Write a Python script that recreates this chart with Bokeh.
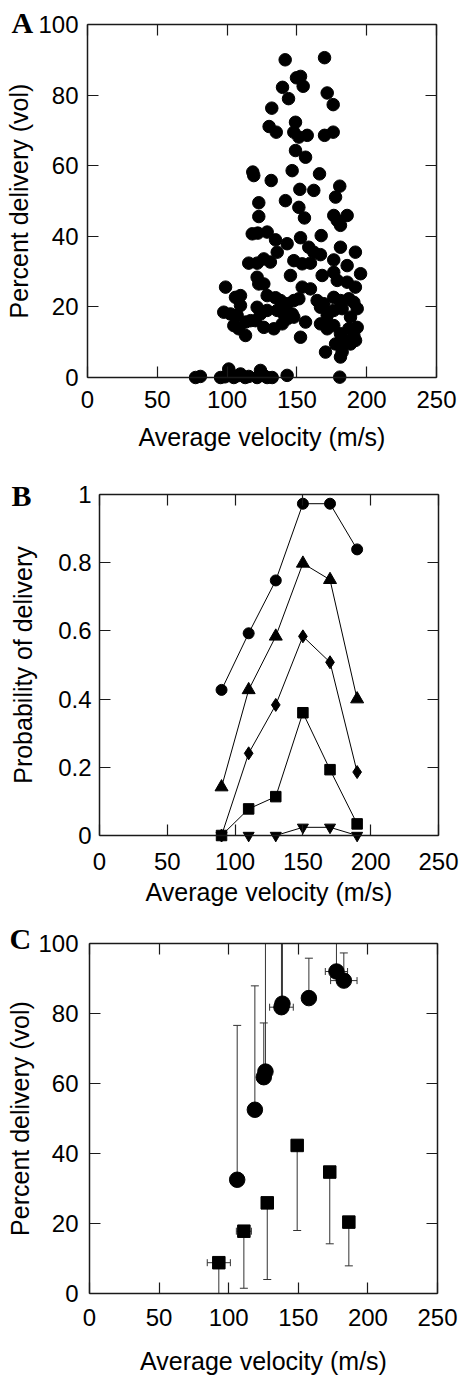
import numpy as np
from bokeh.plotting import figure
from bokeh.models import (LinearAxis, FixedTicker, Label, CustomJSTickFormatter, Range1d,
                          CustomLabelingPolicy)
from bokeh.layouts import column
from bokeh.embed import file_html
from bokeh.resources import INLINE

# ---------------- Panel A: individual measurements ----------------
a_velocity = [
    141.6, 169.8, 149.7, 152.6, 154.5, 139.7, 171.7, 144.0, 176.0, 132.0,
    149.0, 130.1, 135.2, 147.8, 151.4, 157.4, 169.8, 176.0, 149.0, 156.2,
    146.6, 118.4, 119.1, 131.6, 166.2, 180.7, 152.1, 162.1, 177.7, 141.8,
    122.7,
    122.7, 151.4, 155.4, 176.4, 178.9, 186.0, 181.2, 118.0, 122.0, 128.7,
    134.7, 143.0, 152.6, 167.4, 181.2, 191.9, 135.9, 158.5, 162.1, 115.5,
    121.6, 126.3, 131.0, 147.8, 153.8, 159.7, 166.9, 176.4, 186.0, 145.4,
    121.5, 122.7, 126.3, 168.1, 176.4, 178.9, 186.0, 191.9, 195.6, 98.9,
    153.8, 159.7,
    128.7, 134.7, 138.3, 143.0, 147.8, 151.4, 106.0, 109.6, 164.5, 169.3,
    176.4, 181.2, 187.2, 190.8, 97.6, 102.4, 107.2, 109.6, 121.5, 123.9,
    128.7, 120.3, 135.9, 140.6, 146.6, 143.0, 147.8, 156.2, 166.9, 171.7,
    176.4, 170.5, 182.4, 188.4, 193.2, 104.8, 108.4, 113.2, 116.8, 113.2,
    126.3, 133.5, 139.5, 152.6, 166.9, 171.7, 176.4, 181.2, 187.2, 190.8,
    193.2, 170.5, 177.7, 183.6, 188.4, 192.0, 181.2, 182.4,
    77.4, 80.9, 95.3, 98.5, 101.2, 104.8, 107.5, 109.6, 113.0, 115.5,
    121.5, 123.9, 126.5, 128.7, 132.3, 143.0, 180.7,
]
a_delivery = [
    90.0, 90.6, 84.9, 85.3, 82.5, 82.2, 80.6, 79.0, 77.3, 76.3,
    72.3, 71.1, 69.5, 69.5, 68.1, 68.6, 68.6, 69.5, 64.3, 62.4,
    58.6, 58.2, 57.2, 55.8, 57.7, 54.2, 53.3, 53.0, 51.1, 50.1,
    49.5,
    45.6, 48.2, 45.2, 45.9, 44.5, 45.9, 43.1, 40.7, 40.9, 41.2,
    39.0, 37.9, 39.6, 40.2, 36.9, 35.5, 35.5, 36.9, 35.5, 32.4,
    32.4, 33.6, 32.7, 33.1, 32.2, 32.4, 34.8, 33.3, 31.7, 28.9,
    28.4, 26.5, 26.5, 28.9, 29.8, 27.5, 27.0, 25.6, 29.4, 25.6,
    25.6, 25.1,
    23.2, 22.6, 21.8, 20.9, 21.8, 22.3, 22.7, 23.2, 21.8, 20.9,
    22.7, 21.8, 22.3, 21.3, 18.5, 18.0, 17.6, 20.4, 19.9, 18.0,
    19.0, 16.1, 19.0, 18.0, 18.0, 16.6, 17.1, 15.7, 19.9, 17.6,
    19.0, 15.2, 19.5, 17.1, 19.5, 14.7, 13.8, 15.7, 16.1, 11.9,
    14.2, 13.8, 15.2, 11.4, 15.2, 13.8, 14.7, 12.4, 13.8, 11.9,
    14.2, 7.2, 9.5, 10.5, 9.5, 10.5, 5.8, 7.2,
    0.0, 0.3, 0.0, 0.2, 2.4, 0.0, 0.5, 1.0, 0.0, 0.3,
    0.0, 2.0, 0.5, 0.0, 0.0, 0.6, 0.1,
]

# ---------------- Panel B: probability of delivery ----------------
b_velocity = [90, 110, 130, 150, 170, 190]
b_circle = [0.427, 0.593, 0.748, 0.973, 0.973, 0.839]
b_triangle = [0.142, 0.427, 0.584, 0.798, 0.750, 0.400]
b_diamond = [0.0, 0.241, 0.383, 0.584, 0.508, 0.186]
b_square = [0.0, 0.078, 0.114, 0.360, 0.193, 0.034]
b_down = [0.0, 0.0, 0.0, 0.024, 0.024, 0.0]

# ---------------- Panel C: means with error bars ----------------
c_circ_vel = [106.1, 118.8, 125.2, 126.4, 137.9, 138.6, 157.6, 177.4, 182.7]
c_circ_del = [32.5, 52.5, 61.8, 63.4, 81.8, 82.8, 84.4, 92.0, 89.4]
c_circ_upper = [76.6, 87.9, 77.3, 115.0, 115.0, 115.0, 95.8, 115.0, 97.3]
c_circ_xerr = [2.5, 0.0, 0.0, 0.0, 8.5, 0.0, 0.0, 8.0, 9.5]

c_sq_vel = [92.9, 110.9, 127.7, 149.2, 172.6, 186.3]
c_sq_del = [8.8, 17.8, 25.9, 42.3, 34.7, 20.4]
c_sq_lower = [0.0, 1.5, 4.0, 18.0, 14.2, 7.9]
c_sq_xerr = [8.3, 5.4, 4.0, 2.0, 4.0, 0.0]

x_ticks = [0, 50, 100, 150, 200, 250]
pct_ticks = [0, 20, 40, 60, 80, 100]
prob_ticks = [0, 0.2, 0.4, 0.6, 0.8, 1.0]

FONT = "Liberation Sans"
INK = "#1a1a1a"
TICK_PX = "24px"
LABEL_PX = "25px"
W = 460


def style_axis(ax, show_labels=True, label_standoff=10, title_standoff=6):
    ax.axis_line_color = INK
    ax.axis_line_width = 1.5
    ax.major_tick_line_color = INK
    ax.major_tick_line_width = 1.2
    ax.major_tick_in = 11
    ax.major_tick_out = 0
    ax.minor_tick_line_color = None
    ax.major_label_text_font = FONT
    ax.major_label_text_color = "black"
    ax.axis_label_text_font = FONT
    ax.axis_label_text_font_style = "normal"
    ax.axis_label_text_font_size = LABEL_PX
    ax.axis_label_text_color = "black"
    ax.axis_label_standoff = title_standoff
    ax.major_label_standoff = label_standoff
    if show_labels:
        ax.major_label_text_font_size = TICK_PX
    else:
        # frame-side ticks only: no tick labels are drawn
        ax.major_label_policy = CustomLabelingPolicy(
            code="for (const i of indices) { if (false) { yield i } }")
        ax.major_label_standoff = 0


def make_fig(height, box, xlim, ylim, yticks, ylabel, xstand, ystand, fmt=None):
    """box = pixel edges (left, right, top, bottom) of the data rectangle in the canvas."""
    L, R, T, B = box
    sx = (R - L) / (xlim[1] - xlim[0])
    sy = (B - T) / (ylim[1] - ylim[0])
    xr = Range1d(xlim[0] - L / sx, xlim[1] + (W - R) / sx)
    yr = Range1d(ylim[0] - (height - B) / sy, ylim[1] + T / sy)
    p = figure(width=W, height=height, x_range=xr, y_range=yr,
               output_backend="svg", toolbar_location=None,
               min_border=0, min_border_left=0, min_border_right=0,
               min_border_top=0, min_border_bottom=0)
    p.title.visible = False
    p.grid.visible = False
    p.outline_line_color = None
    p.background_fill_color = "white"
    p.border_fill_color = "white"
    p.xaxis.axis_label = "Average velocity (m/s)"
    p.yaxis.axis_label = ylabel
    p.xaxis.ticker = FixedTicker(ticks=x_ticks)
    p.yaxis.ticker = FixedTicker(ticks=yticks)
    if fmt is not None:
        p.yaxis.formatter = fmt
    bx = p.xaxis[0]
    by = p.yaxis[0]
    style_axis(bx, True, xstand[0], xstand[1])
    style_axis(by, True, ystand[0], ystand[1])
    bx.fixed_location = ylim[0]
    by.fixed_location = xlim[0]
    bx.bounds = xlim
    by.bounds = ylim
    top_ax = LinearAxis(ticker=FixedTicker(ticks=x_ticks), fixed_location=ylim[1], bounds=xlim)
    right_ax = LinearAxis(ticker=FixedTicker(ticks=yticks), fixed_location=xlim[1], bounds=ylim)
    style_axis(top_ax, False)
    style_axis(right_ax, False)
    p.add_layout(top_ax, "above")
    p.add_layout(right_ax, "right")
    return p


def panel_letter(p, text, x, y):
    # x from canvas left, y from canvas bottom (the frame spans the whole canvas)
    p.add_layout(Label(x=x, y=y, x_units="screen", y_units="screen", text=text,
                       text_font="Liberation Serif", text_font_style="bold",
                       text_font_size="30px", text_color="black",
                       text_baseline="alphabetic", text_align="left"))


# ---- A ----
HA = 455
pA = make_fig(HA, (87, 436, 24, 377), (0, 250), (0, 100), pct_ticks,
              "Percent delivery (vol)", (13, 12), (9, 2))
pA.scatter(a_velocity, a_delivery, marker="circle", size=12.5,
           fill_color="black", line_color="black")
panel_letter(pA, "A", 11, HA - 22)

# ---- B ----
HB = 455
prob_fmt = CustomJSTickFormatter(code="return (tick === 0 || tick === 1) ? tick.toFixed(0) : tick.toFixed(1);")
pB = make_fig(HB, (99, 438, 39, 380), (0, 250), (0, 1), prob_ticks,
              "Probability of delivery", (17, 5), (8, 18), prob_fmt)
series = [
    (b_circle, "circle", 11),
    (b_triangle, "triangle", 13),
    (b_diamond, "diamond", 13),
    (b_square, "square", 10.5),
    (b_down, "inverted_triangle", 11),
]
for vals, mk, sz in series:
    pB.line(b_velocity, vals, line_color="black", line_width=1)
    pB.scatter(b_velocity, vals, marker=mk, size=sz, fill_color="black", line_color="black")
panel_letter(pB, "B", 11, HB - 40)

# ---- C ----
HC = 470
pC = make_fig(HC, (89, 437, 33, 383), (0, 250), (0, 100), pct_ticks,
              "Percent delivery (vol)", (15, 18), (11, 1))
cv = np.array(c_circ_vel); cd = np.array(c_circ_del)
cu = np.array(c_circ_upper); cx = np.array(c_circ_xerr)
sv = np.array(c_sq_vel); sd = np.array(c_sq_del)
sl = np.array(c_sq_lower); sx = np.array(c_sq_xerr)
EB = "#333333"
PCT_MAX = pct_ticks[-1]
# vertical error bars (one-sided); bars running past the top of the axes stop there
cu_vis = np.minimum(cu, PCT_MAX)
pC.segment(cv, cd, cv, cu_vis, line_color=EB, line_width=1)
capped = cu <= PCT_MAX
pC.scatter(cv[capped], cu[capped], marker="dash", size=8, line_color=EB, line_width=1)
pC.segment(sv, sl, sv, sd, line_color=EB, line_width=1)
has_cap = sl > 0
pC.scatter(sv[has_cap], sl[has_cap], marker="dash", size=8, line_color=EB, line_width=1)
# horizontal error bars
for vel, dl, xe in ((cv, cd, cx), (sv, sd, sx)):
    m = xe > 0
    pC.segment(vel[m] - xe[m], dl[m], vel[m] + xe[m], dl[m], line_color=EB, line_width=1)
    pC.scatter(np.concatenate([vel[m] - xe[m], vel[m] + xe[m]]),
               np.concatenate([dl[m], dl[m]]), marker="dash", angle=np.pi / 2,
               size=7, line_color=EB, line_width=1)
pC.scatter(cv, cd, marker="circle", size=15.5, fill_color="black", line_color="black")
pC.scatter(sv, sd, marker="square", size=12.5, fill_color="black", line_color="black")
panel_letter(pC, "C", 9, HC - 28)

layout = column(pA, pB, pC, spacing=0)
open("out.html", "w").write(file_html(layout, INLINE))
